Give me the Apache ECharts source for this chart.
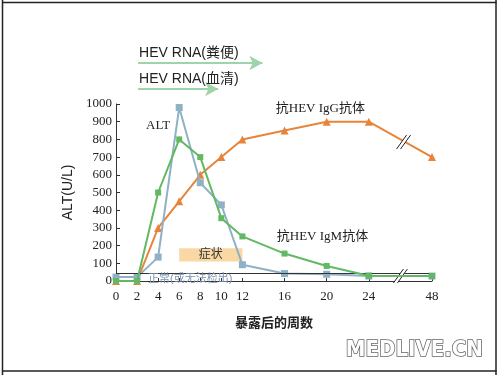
<!DOCTYPE html>
<html><head><meta charset="utf-8">
<script src="https://cdn.jsdelivr.net/npm/echarts@6/dist/echarts.min.js"></script>
<style>html,body{margin:0;padding:0;background:#fff}#c{width:499px;height:375px}</style>
</head><body><div id="c"></div>
<script>
// weeks after exposure (48 sits after an axis break)
const weeks = [0, 2, 4, 6, 8, 10, 12, 16, 20, 24, 48];
const altVals = [22, 22, 135, 980, 555, 430, 92, 42, 38, 28, 28];
const igmVals = [0, 0, 500, 800, 700, 355, 252, 155, 85, 30, 28];
const iggVals = [0, 0, 300, 450, 600, 700, 800, 850, 900, 900, 700];
const xTickWeeks = [0, 2, 4, 6, 8, 10, 12, 16, 20, 24, 48];
const normalLevel = 42;
const symptomRange = [6, 12, 110, 185];
const rnaStool = [2.1, 13.9];
const rnaSerum = [2.1, 9.7];

const BREAK_POS = 30; // where week 48 is drawn on the broken axis
const pos = w => (w === 48 ? BREAK_POS : w);
const pair = vals => weeks.map((w, i) => [pos(w), vals[i]]);

const serif = '"Liberation Serif","Noto Sans CJK SC",serif';
const sans = '"Liberation Sans","Noto Sans CJK SC",sans-serif';
const gapPath = 'path://M0,14 L4,14 L14,0 L10,0 Z';
const slashPath = 'path://M0,14 L10,0 M4,14 L14,0';
const breakMark = (x, y) => [
  {coord: [x, y], symbol: gapPath, itemStyle: {color: '#fff', borderWidth: 0}},
  {coord: [x, y], symbol: slashPath, itemStyle: {color: 'none', borderColor: '#222', borderWidth: 1}}
];

const chart = echarts.init(document.getElementById('c'));
chart.setOption({
  animation: false,
  grid: [
    {left: 116, right: 67, top: 104, bottom: 94},
    {left: 116, right: 67, top: 45, height: 55}
  ],
  xAxis: [{
    type: 'value', min: 0, max: BREAK_POS, gridIndex: 0,
    splitLine: {show: false},
    axisLine: {lineStyle: {color: '#333', width: 1}},
    axisTick: {show: true, inside: true, length: 3, customValues: xTickWeeks.map(pos), lineStyle: {color: '#333'}},
    axisLabel: {customValues: xTickWeeks.map(pos), formatter: v => (v === BREAK_POS ? '48' : String(v)),
      fontFamily: serif, fontSize: 13, color: '#222', margin: 9},
    name: '暴露后的周数', nameLocation: 'middle', nameGap: 36,
    nameTextStyle: {fontFamily: sans, fontSize: 13, color: '#222', fontWeight: 'bold'}
  }, {
    type: 'value', min: 0, max: BREAK_POS, gridIndex: 1, show: false
  }],
  yAxis: [{
    type: 'value', min: 0, max: 1000, interval: 100, gridIndex: 0,
    splitLine: {show: false},
    axisLine: {show: true, lineStyle: {color: '#333', width: 1}},
    axisTick: {show: true, inside: true, length: 4, lineStyle: {color: '#333'}},
    axisLabel: {fontFamily: serif, fontSize: 13, color: '#222', margin: 4, formatter: v => String(v)},
    name: 'ALT(U/L)', nameLocation: 'middle', nameGap: 40, nameRotate: 90,
    nameTextStyle: {fontFamily: sans, fontSize: 14, color: '#222'}
  }, {
    type: 'value', min: 0, max: 2, gridIndex: 1, show: false
  }],
  series: [
    {
      type: 'line', name: 'IgG', data: pair(iggVals), xAxisIndex: 0, yAxisIndex: 0,
      symbol: 'triangle', symbolSize: 8, color: '#e8843a',
      lineStyle: {width: 2, color: '#e8843a'}, z: 3,
      markPoint: {
        symbolSize: 14, silent: true, label: {show: false},
        data: breakMark(27.3, 785)
      },
      markArea: {
        silent: true,
        itemStyle: {color: '#f9d8a4'},
        label: {show: true, position: 'inside', formatter: '症状', fontFamily: sans, fontSize: 12, color: '#333'},
        data: [[{coord: [symptomRange[0], symptomRange[3]]}, {coord: [symptomRange[1], symptomRange[2]]}]]
      }
    },
    {
      type: 'line', name: 'ALT', data: pair(altVals), xAxisIndex: 0, yAxisIndex: 0,
      symbol: 'rect', symbolSize: 7, color: '#8fb1c5',
      lineStyle: {width: 2, color: '#8fb1c5'}, z: 4,
      markLine: {
        silent: true, symbol: ['none', 'none'],
        lineStyle: {color: '#333', width: 1, type: 'solid'},
        label: {show: true, position: 'insideStartBottom', formatter: '正常(或无法检出)',
          fontFamily: sans, fontSize: 11, color: '#7d92b0', textBorderWidth: 0, textBorderColor: 'transparent',
          backgroundColor: 'transparent', distance: [32, 0]},
        data: [{yAxis: normalLevel}]
      }
    },
    {
      type: 'line', name: 'IgM', data: pair(igmVals), xAxisIndex: 0, yAxisIndex: 0,
      symbol: 'rect', symbolSize: 6, color: '#62b863',
      lineStyle: {width: 2, color: '#62b863'}, z: 5,
      markPoint: {
        symbolSize: 14, silent: true, label: {show: false},
        data: breakMark(27.0, 28)
      }
    },
    {
      type: 'scatter', data: [], xAxisIndex: 0, yAxisIndex: 0, silent: true,
      markPoint: {
        symbol: 'circle', symbolSize: 1, itemStyle: {color: 'rgba(0,0,0,0)'},
        label: {show: true, position: 'inside', fontFamily: serif, fontSize: 13, color: '#222'},
        data: [
          {coord: [4.0, 880], value: 'ALT', label: {formatter: 'ALT'}},
          {coord: [19.4, 975], value: 'IgG', label: {formatter: '抗HEV IgG抗体'}},
          {coord: [19.6, 250], value: 'IgM', label: {formatter: '抗HEV IgM抗体'}}
        ]
      }
    },
    {
      type: 'line', data: [], xAxisIndex: 1, yAxisIndex: 1, silent: true,
      markLine: {
        silent: true, symbol: ['none', 'arrow'], symbolSize: [11, 13],
        lineStyle: {color: '#9fd3a9', width: 2, type: 'solid'},
        label: {show: true, position: 'insideStartTop', fontFamily: sans, fontSize: 14, color: '#222', distance: [1, 3]},
        data: [
          [{coord: [rnaStool[0], 1.345], label: {formatter: 'HEV RNA(粪便)'}}, {coord: [rnaStool[1], 1.345]}],
          [{coord: [rnaSerum[0], 0.4], label: {formatter: 'HEV RNA(血清)'}}, {coord: [rnaSerum[1], 0.4]}]
        ]
      }
    }
  ],
  graphic: [
    {type: 'line', shape: {x1: 2.5, y1: 0, x2: 2.5, y2: 375}, style: {stroke: '#222', lineWidth: 1.5}, silent: true},
    {type: 'line', shape: {x1: 496, y1: 0, x2: 496, y2: 375}, style: {stroke: '#222', lineWidth: 1.5}, silent: true},
    {type: 'line', shape: {x1: 2, y1: 2.5, x2: 496.5, y2: 2.5}, style: {stroke: '#222', lineWidth: 1.5}, silent: true},
    {type: 'line', shape: {x1: 2, y1: 371, x2: 496.5, y2: 371}, style: {stroke: '#222', lineWidth: 1.5}, silent: true},
    {type: 'text', left: 345, top: 339, silent: true,
      style: {text: 'MEDLIVE.CN', font: 'bold 22px "DejaVu Sans Condensed","Liberation Sans", sans-serif', fill: '#fff',
        stroke: '#666', lineWidth: 1.5, shadowColor: 'rgba(0,0,0,0.5)', shadowOffsetX: 1.5, shadowOffsetY: 1.5, shadowBlur: 1}}
  ]
});
</script></body></html>
